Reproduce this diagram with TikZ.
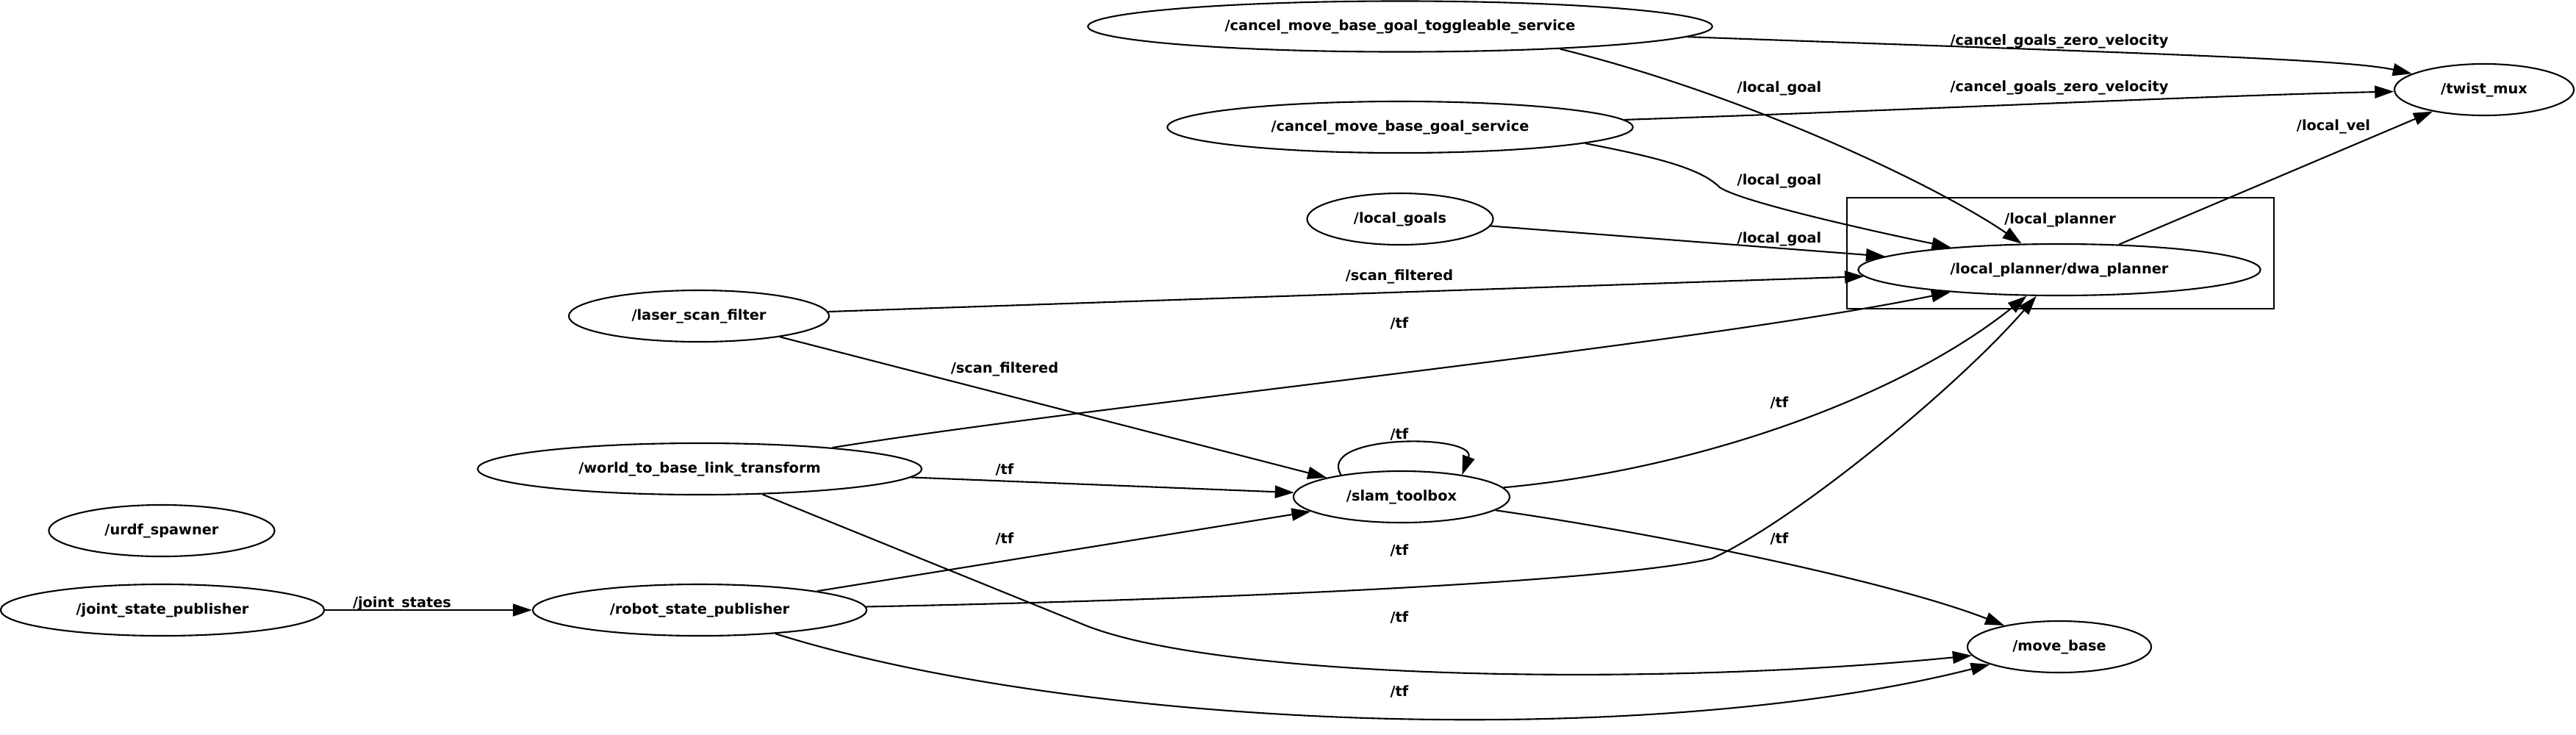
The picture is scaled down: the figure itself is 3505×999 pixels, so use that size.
\documentclass[tikz,border=0pt]{standalone}
\usepackage{fontspec}
\setmainfont{DejaVu Sans}
\usetikzlibrary{arrows.meta,shapes.geometric}

\begin{document}
\begin{tikzpicture}[x=0.01cm, y=-0.01cm, >={Triangle[length=0.26cm,width=0.17cm]},
    every node/.style={font=\fontsize{5.5}{6.6}\selectfont\bfseries},
    rosnode/.style={ellipse, draw, line width=0.6pt, inner sep=0pt, minimum height=0.70cm},
    topic/.style={inner sep=0pt, text height=0.75em, text depth=0.22em},
    conn/.style={->, line width=0.6pt}]

    \useasboundingbox (0,0) rectangle (3505,999);

    % ノード
    \node[rosnode, minimum width=4.40cm] (jsp)   at (221,830)  {/joint\_state\_publisher};
    \node[rosnode, minimum width=3.07cm] (urdf)  at (220,722)  {/urdf\_spawner};
    \node[rosnode, minimum width=4.54cm] (rsp)   at (952,830)  {/robot\_state\_publisher};
    \node[rosnode, minimum width=6.04cm] (w2b)   at (952,638)  {/world\_to\_base\_link\_transform};
    \node[rosnode, minimum width=3.54cm] (lsf)   at (951,430)  {/laser\_scan\_filter};
    \node[rosnode, minimum width=2.94cm] (slam)  at (1907,676) {/slam\_toolbox};
    \node[rosnode, minimum width=2.53cm] (lgs)   at (1905,298) {/local\_goals};
    \node[rosnode, minimum width=6.33cm] (cmbg)  at (1905,173) {/cancel\_move\_base\_goal\_service};
    \node[rosnode, minimum width=8.49cm, minimum height=0.69cm] (cmbgt) at (1905,36) {/cancel\_move\_base\_goal\_toggleable\_service};
    \node[rosnode, minimum width=5.47cm] (dwa)   at (2802,367) {/local\_planner/dwa\_planner};
    \node[rosnode, minimum width=2.50cm] (mb)    at (2802,880) {/move\_base};
    \node[rosnode, minimum width=2.44cm] (tmux)  at (3380,122) {/twist\_mux};

    % /local_planner の枠
    \draw[line width=0.6pt] (2513,269) rectangle (3094,420);
    \node[topic] (lpbox) at (2803,295) {/local\_planner};

    % エッジ
    \draw[conn] (jsp) -- (rsp);
    \draw[conn] (cmbgt) .. controls (2900,72) and (3190,80) .. (tmux);
    \draw[conn] (cmbg) .. controls (2600,150) and (3000,130) .. (tmux);
    \draw[conn] (cmbgt.-8) .. controls (2380,130) and (2640,255) .. (dwa);
    \draw[conn] (cmbg.-5) .. controls (2260,215) and (2315,230) .. (2340,255)
                .. controls (2370,275) and (2550,315) .. (dwa);
    \draw[conn] (lgs) -- (dwa);
    \draw[conn] (lsf) -- (dwa);
    \draw[conn] (lsf) -- (slam);
    \draw[conn] (w2b) .. controls (1500,550) and (2300,470) .. (dwa);
    \draw[conn] (w2b) -- (slam);
    \draw[conn] (w2b) -- (1470,848) .. controls (1650,925) and (2250,935) .. (mb);
    \draw[conn] (rsp) -- (slam);
    \draw[conn] (rsp) .. controls (1700,815) and (2200,790) .. (2329,760)
                .. controls (2440,710) and (2660,530) .. (dwa);
    \draw[conn] (rsp) .. controls (1480,995) and (2250,1020) .. (mb);
    \draw[conn] (slam) .. controls (2300,640) and (2580,545) .. (dwa);
    \draw[conn] (slam) .. controls (2250,725) and (2570,790) .. (mb);
    \draw[conn] (slam.160) .. controls (1790,590) and (2010,590) .. (slam.20);
    \draw[conn] (dwa) -- (tmux);

    % トピック名
    \node[topic] (t-js)   at (547,817)  {/joint\_states};
    \node[topic] (t-scs)  at (1367,498) {/scan\_filtered};
    \node[topic] (t-scd)  at (1904,372) {/scan\_filtered};
    \node[topic] (t-wd)   at (1904,437) {/tf};
    \node[topic] (t-ws)   at (1367,636) {/tf};
    \node[topic] (t-rs)   at (1367,730) {/tf};
    \node[topic] (t-ss)   at (1904,588) {/tf};
    \node[topic] (t-rd)   at (1904,746) {/tf};
    \node[topic] (t-wm)   at (1904,837) {/tf};
    \node[topic] (t-rm)   at (1904,938) {/tf};
    \node[topic] (t-sd)   at (2421,545) {/tf};
    \node[topic] (t-sm)   at (2421,730) {/tf};
    \node[topic] (t-lg1)  at (2421,116) {/local\_goal};
    \node[topic] (t-lg2)  at (2421,242) {/local\_goal};
    \node[topic] (t-lg3)  at (2421,321) {/local\_goal};
    \node[topic] (t-cz1)  at (2802,52)  {/cancel\_goals\_zero\_velocity};
    \node[topic] (t-cz2)  at (2802,115) {/cancel\_goals\_zero\_velocity};
    \node[topic] (t-lv)   at (3175,168) {/local\_vel};

\end{tikzpicture}
\end{document}
